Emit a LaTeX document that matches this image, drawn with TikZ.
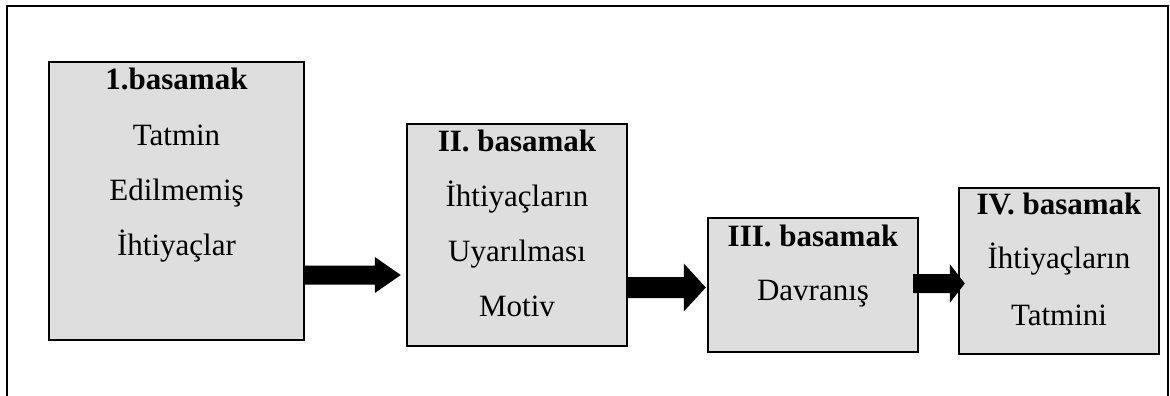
\documentclass[tikz,border=0pt]{standalone}
\usepackage{fontspec}
\setmainfont{Liberation Serif}
\usetikzlibrary{calc}
\definecolor{boxgray}{RGB}{222,222,222}

% Block arrow from one node anchor to another:
% #1 start anchor, #2 start offset, #3 end anchor, #4 tip offset,
% #5 centre line y, #6 shaft half-height, #7 head half-height, #8 head length
\newcommand\blkarrow[8]{%
  \fill[blockarrow] let \p1=(#1), \p2=(#3) in
    ({\x1+(#2)*1pt},{#5-#6}) -- ({\x2+(#4)*1pt-#8pt},{#5-#6})
    -- ({\x2+(#4)*1pt-#8pt},{#5-#7}) -- ({\x2+(#4)*1pt},{#5})
    -- ({\x2+(#4)*1pt-#8pt},{#5+#7}) -- ({\x2+(#4)*1pt-#8pt},{#5+#6})
    -- ({\x1+(#2)*1pt},{#5+#6}) -- cycle;}

\begin{document}
\begin{tikzpicture}[x=1pt,y=-1pt,
  stepbox/.style={draw=black, line width=2.4pt, fill=boxgray, inner sep=0pt},
  txt/.style={font=\fontsize{31}{55}\selectfont, anchor=base, inner sep=0pt},
  hd/.style={txt, font=\fontsize{31}{55}\selectfont\bfseries},
  blockarrow/.style={fill=black}]

\useasboundingbox (0,0) rectangle (1170,396);

% outer frame (open at the bottom edge of the page)
\draw[line width=2pt] (6.5,410) -- (6.5,6) -- (1168,6) -- (1168,410);

% the four stages
\node[stepbox, minimum width=255pt, minimum height=278pt] (b1) at (176.5,201) {};
\node[stepbox, minimum width=220pt, minimum height=222pt] (b2) at (517,235) {};
\node[stepbox, minimum width=210pt, minimum height=134pt] (b3) at (813,285) {};
\node[stepbox, minimum width=200pt, minimum height=166pt] (b4) at (1059,271) {};

% stage texts
\node[hd]  (t1a) at ([yshift=-29pt]b1.north) {1.basamak};
\node[txt] (t1b) at ([yshift=-85pt]b1.north) {Tatmin};
\node[txt] (t1c) at ([yshift=-140pt]b1.north) {Edilmemiş};
\node[txt] (t1d) at ([yshift=-195pt]b1.north) {İhtiyaçlar};

\node[hd]  (t2a) at ([yshift=-29pt]b2.north) {II. basamak};
\node[txt] (t2b) at ([yshift=-84pt]b2.north) {İhtiyaçların};
\node[txt] (t2c) at ([yshift=-139pt]b2.north) {Uyarılması};
\node[txt] (t2d) at ([yshift=-194pt]b2.north) {Motiv};

\node[hd]  (t3a) at ([yshift=-30pt]b3.north) {III. basamak};
\node[txt] (t3b) at ([yshift=-84pt]b3.north) {Davranış};

\node[hd]  (t4a) at ([yshift=-28pt]b4.north) {IV. basamak};
\node[txt] (t4b) at ([yshift=-82pt]b4.north) {İhtiyaçların};
\node[txt] (t4c) at ([yshift=-139pt]b4.north) {Tatmini};

% connecting block arrows
\blkarrow{b1.east}{0}{b2.west}{-5}{275}{9.5}{18}{26}
\blkarrow{b2.east}{0}{b3.west}{-1}{287.5}{10.5}{24}{22}
\blkarrow{b3.east}{-6}{b4.west}{7}{283.5}{9.5}{19.5}{15}

\end{tikzpicture}
\end{document}
